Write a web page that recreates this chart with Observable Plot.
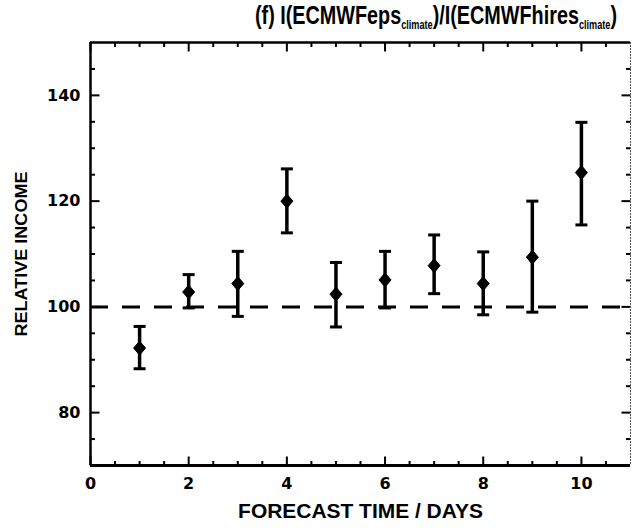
<!DOCTYPE html>
<html><head><meta charset="utf-8">
<script src="https://cdn.jsdelivr.net/npm/d3@7"></script>
<script src="https://cdn.jsdelivr.net/npm/@observablehq/plot@0.6"></script>
<style>
body{margin:0;background:#fff;}
#wrap{position:relative;width:635px;height:531px;overflow:hidden;}
#title{position:absolute;left:255px;top:0px;font:bold 26px "Liberation Sans",Arial,sans-serif;white-space:nowrap;color:#000;transform-origin:0 0;}
#title sub{font-size:12px;vertical-align:-5px;line-height:0;}
#chart{position:absolute;left:0;top:30px;}
</style></head><body>
<div id="wrap"><div id="title">(f) I(ECMWFeps<sub>climate</sub>)/I(ECMWFhires<sub>climate</sub>)</div><div id="chart"></div></div>
<script>
const days   = [1, 2, 3, 4, 5, 6, 7, 8, 9, 10];
const income = [92.2, 102.8, 104.4, 120.0, 102.4, 105.1, 107.8, 104.4, 109.4, 125.4];
const lower  = [88.3, 99.8, 98.2, 114.0, 96.2, 99.8, 102.5, 98.5, 99.0, 115.5];
const upper  = [96.3, 106.1, 110.5, 126.1, 108.4, 110.5, 113.6, 110.4, 120.0, 134.9];
const reference = [100];
const xDomain = [0, 11];
const yDomain = [70, 150];
const xMajor = [0, 2, 4, 6, 8, 10];
const xMinor = [0.5, 1, 1.5, 2.5, 3, 3.5, 4.5, 5, 5.5, 6.5, 7, 7.5, 8.5, 9, 9.5, 10.5];
const yMajor = [80, 100, 120, 140];
const yMinor = [75, 85, 90, 95, 105, 110, 115, 125, 130, 135, 145];

const data = days.map((d, i) => ({day: d, v: income[i], lo: lower[i], hi: upper[i]}));

const seg = (dx, dy) => ({draw(ctx) { ctx.moveTo(0, 0); ctx.lineTo(dx, dy); }});
const hcap = {draw(ctx) { ctx.moveTo(-6, 0); ctx.lineTo(6, 0); }};
const diamond = {draw(ctx) { ctx.moveTo(0, -7); ctx.lineTo(6, 0); ctx.lineTo(0, 7); ctx.lineTo(-6, 0); ctx.closePath(); }};

const MJ = 9, MN = 4.5;
const tick = (arr, scale, anchor, sym, w) =>
  Plot.dot(arr, {[scale]: d => d, frameAnchor: anchor, symbol: sym, stroke: "black", fill: "none", strokeWidth: w});

const font = '"DejaVu Sans",sans-serif';
const labelFont = '"Liberation Sans",Arial,sans-serif';

const chart = Plot.plot({
  width: 635, height: 501,
  marginLeft: 90, marginRight: 5, marginTop: 12, marginBottom: 66,
  style: {fontFamily: font, fontWeight: "bold", color: "black", background: "white"},
  x: {domain: xDomain},
  y: {domain: yDomain},
  marks: [
    Plot.ruleY(reference, {y: d => d, strokeWidth: 3, strokeDasharray: "18,14"}),
    Plot.ruleX(data, {x: "day", y1: "lo", y2: "hi", strokeWidth: 3.5}),
    Plot.dot(data, {x: "day", y: "hi", symbol: hcap, stroke: "black", fill: "none", strokeWidth: 3}),
    Plot.dot(data, {x: "day", y: "lo", symbol: hcap, stroke: "black", fill: "none", strokeWidth: 3}),
    Plot.dot(data, {x: "day", y: "v", symbol: diamond, fill: "black", stroke: "black", strokeWidth: 1}),
    // ticks on all four sides
    tick(xMajor, "x", "bottom", seg(0, -MJ), 2),
    tick(xMinor, "x", "bottom", seg(0, -MN), 2),
    tick(xMajor, "x", "top", seg(0, MJ), 2),
    tick(xMinor, "x", "top", seg(0, MN), 2),
    tick(yMajor, "y", "left", seg(MJ, 0), 2),
    tick(yMinor, "y", "left", seg(MN, 0), 2),
    tick(yMajor, "y", "right", seg(-MJ, 0), 2),
    tick(yMinor, "y", "right", seg(-MN, 0), 2),
    // frame
    Plot.ruleY([yDomain[0]], {y: d => d, strokeWidth: 3}),
    Plot.ruleY([yDomain[1]], {y: d => d, strokeWidth: 2.5}),
    Plot.ruleX([xDomain[0]], {x: d => d, strokeWidth: 2.5}),
    Plot.ruleX([xDomain[1]], {x: d => d, strokeWidth: 1, stroke: "#555", strokeDasharray: "2,1"}),
    // axes
    Plot.axisX(xMajor, {anchor: "bottom", tickSize: 0, tickPadding: 12, fontSize: 16, fontWeight: "bold",
      label: "FORECAST TIME / DAYS", labelAnchor: "center", labelOffset: 52, labelArrow: "none"}),
    Plot.axisY(yMajor, {anchor: "left", tickSize: 0, tickPadding: 10, fontSize: 16, fontWeight: "bold",
      label: "RELATIVE INCOME", labelAnchor: "center", labelOffset: 76, labelArrow: "none"})
  ]
});
document.getElementById("chart").appendChild(chart);

// condense the axis titles and the page title like the original's narrow lettering
function condense(sel, size, target) {
  const g = chart.querySelector(sel);
  if (!g) return;
  g.querySelectorAll("text").forEach(t => {
    t.setAttribute("font-family", labelFont);
    t.setAttribute("font-size", size);
    t.style.fontFamily = labelFont;
    t.style.fontSize = size + "px";
    const w = t.getComputedTextLength();
    const tr = t.getAttribute("transform") || "";
    if (w > 0) t.setAttribute("transform", tr + ` scale(${target / w},1)`);
  });
}
condense('[aria-label="x-axis label"]', 20, 245);
condense('[aria-label="y-axis label"]', 17, 165);

const title = document.getElementById("title");
const tw = title.getBoundingClientRect().width;
title.style.transform = `scaleX(${362 / tw})`;
</script>
</body></html>
